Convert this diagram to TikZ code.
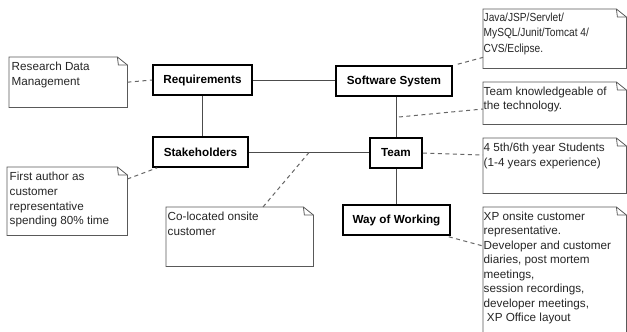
\documentclass[tikz,border=0pt]{standalone}
\usepackage{fontspec}
\setmainfont{Liberation Sans}
\newfontfamily\condfont[FakeStretch=0.87]{Liberation Sans}
\usetikzlibrary{calc}
\tikzset{
  entity/.style={draw=black, line width=1.6pt, minimum height=30pt, inner sep=0pt,
    font=\fontsize{11.7}{14}\selectfont\bfseries},
  notebox/.style={draw=none, anchor=north west, inner sep=0pt},
  notetext/.style={anchor=north west, inner xsep=2.5pt, inner ysep=5pt, align=left,
    font=\fontsize{11.7}{14.7}\selectfont, text=black!85},
  noteline/.style={draw=black!65, line width=0.8pt},
  link/.style={draw=black!70, line width=1pt},
  dlink/.style={draw=black!60, line width=1pt, dash pattern=on 4pt off 3.5pt},
}
\newcommand{\dogear}[1]{%
  \draw[noteline] (#1.north west) -- ($(#1.north east)+(-10,0)$) -- ($(#1.north east)+(0,8)$)
    -- (#1.south east) -- (#1.south west) -- cycle;
  \draw[noteline] ($(#1.north east)+(-10,0)$) -- ($(#1.north east)+(-9,8)$) -- ($(#1.north east)+(0,8)$);
}
\begin{document}
\begin{tikzpicture}[x=1pt,y=-1pt]
\useasboundingbox[fill=white] (0,0) rectangle (627,332);
\clip (0,0) rectangle (627,332);
% entities
\node[entity, minimum width=99pt] (req) at (202.5,80) {Requirements};
\node[entity, minimum width=95pt] (stake) at (200.5,152) {Stakeholders};
\node[entity, minimum width=116pt] (ss) at (394,81) {Software System};
\node[entity, minimum width=52pt] (team) at (396,153) {Team};
\node[entity, minimum width=107pt] (wow) at (396.5,220) {Way of Working};
% solid links
\draw[link] (req.east) -- (req.east -| ss.west);
\draw[link] (req.south) -- (req.south |- stake.north);
\draw[link] (stake.east) -- (stake.east -| team.west);
\draw[link] (team.north |- ss.south) -- (team.north);
\draw[link] (team.south) -- (team.south |- wow.north);
% notes
\node[notebox, minimum width=118pt, minimum height=50pt] (nrdm) at (9,57) {};
\node[notebox, minimum width=120pt, minimum height=68pt] (nfa) at (7,167) {};
\node[notebox, minimum width=147pt, minimum height=59pt] (nco) at (166,207) {};
\node[notebox, minimum width=143pt, minimum height=59pt] (njava) at (483,9) {};
\node[notebox, minimum width=143pt, minimum height=42pt] (ntk) at (483,82) {};
\node[notebox, minimum width=143pt, minimum height=55pt] (n45) at (483,138) {};
\node[notebox, minimum width=143pt, minimum height=140pt] (nxp) at (483,207) {};
\dogear{nrdm}\dogear{nfa}\dogear{nco}\dogear{njava}\dogear{ntk}\dogear{n45}\dogear{nxp}
\node[notetext] (trdm) at (nrdm.north west) {Research Data\\Management};
\node[notetext] (tfa) at (nfa.north west) {First author as\\customer\\representative\\spending 80\% time};
\node[notetext, inner xsep=1.5pt] (tco) at (nco.north west) {Co-located onsite\\customer};
\node[notetext, inner xsep=0.5pt, inner ysep=3.5pt, font=\fontsize{11.7}{15.8}\selectfont\condfont] (tjava) at (njava.north west) {Java/JSP/Servlet/\\MySQL/Junit/Tomcat 4/\\CVS/Eclipse.};
\node[notetext, inner xsep=0.5pt, inner ysep=4.5pt] (ttk) at (ntk.north west) {Team knowledgeable of\\the technology.};
\node[notetext, inner xsep=0.5pt] (t45) at (n45.north west) {4 5th/6th year Students\\(1-4 years experience)};
\node[notetext, inner xsep=0.5pt, inner ysep=4.5pt, font=\fontsize{11.7}{14.5}\selectfont] (txp) at (nxp.north west) {XP onsite customer\\representative.\\Developer and customer\\diaries, post mortem\\meetings,\\session recordings,\\developer meetings,\\\ XP Office layout};
% dashed links
\draw[dlink] (nrdm.east) -- (req.west);
\draw[dlink] ($(nfa.north east)+(0,12)$) -- ($(stake.south west)+(5,0)$);
\draw[dlink] ($(nco.north west)+(97,0)$) -- ($(stake.east)!0.5!(team.west)$);
\draw[dlink] ($(ss.north east)+(5,-1)$) -- ($(njava.south west)+(0,-11)$);
\draw[dlink] ($(ss.south)!0.5!(team.north)+(4,0)$) -- ($(ntk.north west)+(0,27)$);
\draw[dlink] (team.east) -- ($(n45.north west)+(0,17)$);
\draw[dlink] ($(wow.south east)+(-2,1)$) -- ($(nxp.north west)+(0,39)$);
\end{tikzpicture}
\end{document}
